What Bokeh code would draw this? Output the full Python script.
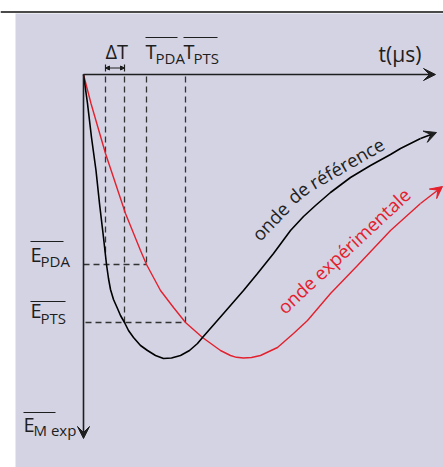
import numpy as np
from bokeh.plotting import figure
from bokeh.models import Range1d, Arrow, VeeHead, NormalHead
from bokeh.core.properties import value
from bokeh.embed import file_html
from bokeh.resources import INLINE

# ---- data (time offset t, energy E measured downward from the origin) ----
ref_t = [0, 4, 8, 12.5, 16, 20, 23, 25, 27, 30, 34, 37, 41, 45, 50, 57, 64, 72, 80, 88,
         97, 106, 114, 119, 140, 160, 174, 190, 207, 220, 232, 247, 267, 287, 307, 317,
         337, 353]
ref_E = [0, 29, 63, 96, 129, 163, 190, 204, 215, 225, 234, 241, 248, 256, 263, 271, 276,
         281, 284, 283.5, 281, 276, 269, 263, 239, 216, 199, 179, 156, 142, 131, 118, 103,
         91, 80, 74, 64, 58]

exp_t = [0, 7.5, 22, 42, 57, 63, 77, 90, 102, 119, 137, 147, 153, 160, 168, 177, 194,
         210, 224, 247, 274, 307, 337, 359]
exp_E = [0, 29, 79, 139, 176, 190, 216, 233, 248, 263, 276, 281, 282.8, 283.5, 283, 281,
         273, 259, 246, 219, 191, 156, 129, 112]

T_dT_start = 22
T_dT_end = 41
T_PDA = 63
T_PTS = 102
E_PDA = 190
E_PTS = 248
t_axis_end = 352
E_axis_end = 364

ref_words = ["onde", "de", "référence"]
ref_word_t = [177, 211, 231]
ref_word_E = [168, 131, 116]
ref_word_angle = [46, 39, 30]

RED = "#e4202c"
INK = "#1e1e1e"
BG = "#d3d3e4"
FONT = "Open Sans"
LIFT = 8  # baseline correction, screen px

p = figure(width=443, height=467, output_backend="svg", toolbar_location=None,
           x_range=Range1d(-83, 360), y_range=Range1d(393, -74),
           x_axis_type=None, y_axis_type=None, min_border=0,
           background_fill_color="white", border_fill_color="white",
           outline_line_color=None)
p.grid.visible = False

# panel background and top rule
p.quad(left=[-68], right=[360], top=[-61], bottom=[393], fill_color=BG, line_color=None)
p.segment(x0=[-83], y0=[-62.5], x1=[360], y1=[-62.5], line_color="#4a4a4a", line_width=2)

# dashed guides
ref_t_a = np.array(ref_t[:19]); ref_E_a = np.array(ref_E[:19])
e_dt = float(np.interp(T_dT_start, ref_t_a, ref_E_a))
p.segment(x0=[T_dT_start, T_dT_end, T_PDA, T_PTS], y0=[2, 2, 2, 2],
          x1=[T_dT_start, T_dT_end, T_PDA, T_PTS], y1=[e_dt, E_PTS, E_PDA, E_PTS],
          line_color="#333333", line_width=1.3, line_dash="6 4")
p.segment(x0=[0, 2], y0=[E_PDA, E_PTS], x1=[T_PDA, T_PTS], y1=[E_PDA, E_PTS],
          line_color="#333333", line_width=1.3, line_dash="6 4")

# curves
p.line(exp_t[:-1], exp_E[:-1], line_color=RED, line_width=1.4)
p.line(ref_t[:-1], ref_E[:-1], line_color="black", line_width=1.6)
p.add_layout(Arrow(end=VeeHead(size=12, fill_color=RED, line_color=RED),
                   x_start=exp_t[-2], y_start=exp_E[-2], x_end=exp_t[-1], y_end=exp_E[-1],
                   line_color=RED, line_width=1.4))
p.add_layout(Arrow(end=VeeHead(size=12, fill_color=INK, line_color=INK),
                   x_start=ref_t[-2], y_start=ref_E[-2], x_end=ref_t[-1], y_end=ref_E[-1],
                   line_color="black", line_width=1.6))

# axes
p.add_layout(Arrow(end=VeeHead(size=12, fill_color=INK, line_color=INK),
                   x_start=0, y_start=0, x_end=t_axis_end, y_end=0,
                   line_color=INK, line_width=1.6))
p.add_layout(Arrow(end=VeeHead(size=12, fill_color=INK, line_color=INK),
                   x_start=0, y_start=0, x_end=0, y_end=E_axis_end,
                   line_color=INK, line_width=1.6))

# delta T marker
p.add_layout(Arrow(start=NormalHead(size=4, fill_color=INK, line_color=INK),
                   end=NormalHead(size=4, fill_color=INK, line_color=INK),
                   x_start=T_dT_start, y_start=-6.5, x_end=T_dT_end, y_end=-6.5,
                   line_color=INK, line_width=1))
p.segment(x0=[T_dT_start, T_dT_end], y0=[-10, -10], x1=[T_dT_start, T_dT_end], y1=[-3, -3],
          line_color=INK, line_width=1.2)

def txt(x, y, s, size, color=INK, angle_deg=0.0):
    a = np.deg2rad(angle_deg)
    x2 = x - LIFT * np.sin(a)
    y2 = y - LIFT * np.cos(a)
    p.text(x=[x2], y=[y2], text=[s], text_font=value(FONT), text_font_size=size,
           text_color=color, text_align="left", text_baseline="alphabetic", angle=a)

# top labels
txt(22, -15, "ΔT", "20px")
txt(62, -15, "T", "20px")
txt(72, -9, "PDA", "15px")
txt(100, -15, "T", "20px")
txt(110, -9, "PTS", "15px")
txt(295, -13, "t(µs)", "21px")
# left labels
txt(-53, 188, "E", "20px")
txt(-43, 194, "PDA", "15px")
txt(-53, 244, "E", "20px")
txt(-43, 251, "PTS", "15px")
txt(-60, 358, "E", "20px")
txt(-50, 363, "M exp", "15px")
# overlines
p.segment(x0=[62, 100, -53, -53, -60], y0=[-37, -37, 167, 227, 338],
          x1=[94, 134, -20, -18, -28], y1=[-37, -37, 167, 227, 338],
          line_color=INK, line_width=1.2)

# curve labels
for w, wt, we, wa in zip(ref_words, ref_word_t, ref_word_E, ref_word_angle):
    txt(wt, we, w, "18.5px", color="#222222", angle_deg=wa)
txt(202, 241, "onde expérimentale", "18.5px", color=RED, angle_deg=43)

open("out.html", "w").write(file_html(p, INLINE))
